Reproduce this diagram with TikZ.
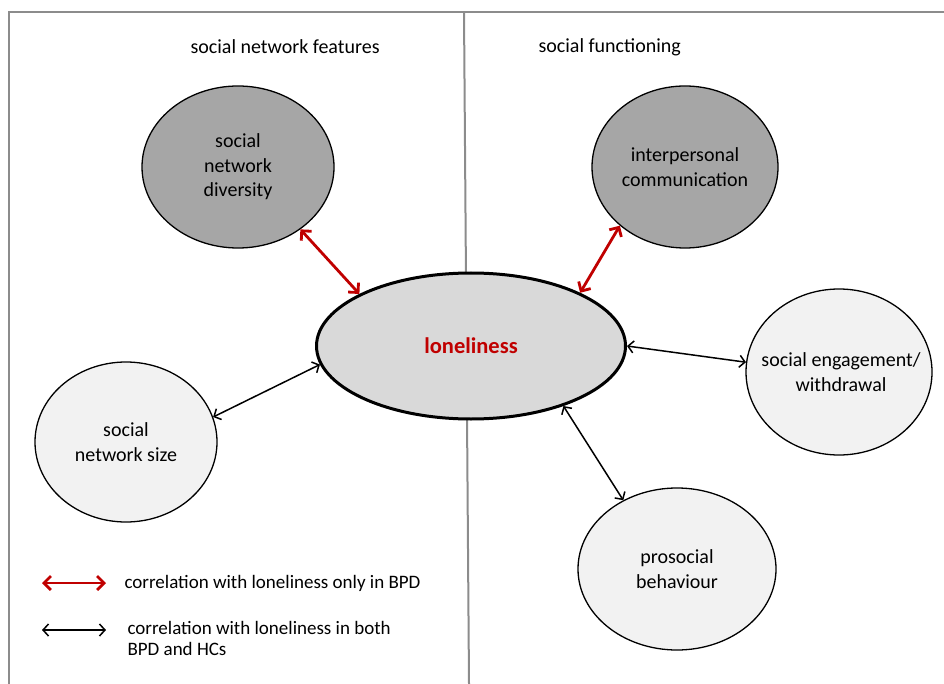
\documentclass[tikz,border=0pt]{standalone}
\usepackage{fontspec}
\setmainfont{Carlito}
\usetikzlibrary{arrows.meta,shapes.geometric}
\definecolor{darkfill}{HTML}{A6A6A6}
\definecolor{midfill}{HTML}{D9D9D9}
\definecolor{lightfill}{HTML}{F2F2F2}
\definecolor{corrred}{HTML}{C00000}
\definecolor{framegray}{HTML}{8C8C8C}
\begin{document}
\begin{tikzpicture}[x=1pt,y=-1pt,
  bubble/.style={ellipse,draw=black,line width=1.3pt,inner sep=0pt,align=center,
    font=\fontsize{20}{24.5}\selectfont},
  darkbubble/.style={bubble,fill=darkfill},
  lightbubble/.style={bubble,fill=lightfill},
  bubbletext/.style={inner sep=0pt,align=center,font=\fontsize{20}{24.5}\selectfont},
  redlink/.style={{Straight Barb[length=7pt,width=14pt]}-{Straight Barb[length=7pt,width=14pt]},
    draw=corrred,line width=2.8pt},
  blacklink/.style={{Straight Barb[length=5.5pt,width=12pt]}-{Straight Barb[length=5.5pt,width=12pt]},
    draw=black,line width=1.5pt},
  heading/.style={font=\fontsize{20}{24}\selectfont,anchor=west},
  legendtext/.style={font=\fontsize{19}{21}\selectfont,anchor=west,align=left}]
\useasboundingbox (0,0) rectangle (944,684);
% frame and divider
\draw[framegray,line width=2pt] (9,684) -- (9,12.5) -- (944,12.5);
\draw[framegray,line width=2pt] (464,12.5) -- (469,684);
% headings
\node[heading] (h1) at (187,47) {social network features};
\node[heading] (h2) at (535,47) {social functioning};
% nodes
\node[ellipse,draw=black,line width=3pt,fill=midfill,minimum width=309pt,minimum height=146pt,
  inner sep=0pt,font=\fontsize{22.5}{26}\selectfont\bfseries,text=corrred] (lon) at (471,346) {loneliness};
\node[darkbubble,minimum width=192pt,minimum height=162pt] (div) at (238,167) {social\\network\\diversity};
\node[darkbubble,minimum width=186pt,minimum height=162pt] (ipc) at (685,167) {interpersonal\\communication};
\node[lightbubble,minimum width=182pt,minimum height=160pt] (size) at (126,442) {social\\network size};
\node[lightbubble,minimum width=186pt,minimum height=166pt] (eng) at (839,372) {};
\node[bubbletext] (engtext) at (841,372) {social engagement/\\withdrawal};
\node[lightbubble,minimum width=198pt,minimum height=162pt] (pro) at (677,569) {prosocial\\behaviour};
% connectors
\draw[redlink] (div.-45) -- (lon.155);
\draw[redlink] (ipc.-138) -- (lon.26);
\draw[blacklink] (size.16) -- (lon.187);
\draw[blacklink] (lon.0) -- (eng.174);
\draw[blacklink] (lon.-33) -- (pro.128);
% legend
\coordinate (r1) at (42,583);
\coordinate (r2) at (106,583);
\coordinate (b1) at (42,630);
\coordinate (b2) at (106,630);
\draw[redlink] (r1) -- (r2);
\draw[blacklink] (b1) -- (b2);
\node[legendtext] (l1) at (121,583) {correlation with loneliness only in BPD};
\node[legendtext] (l2) at (124,638) {correlation with loneliness in both\\BPD and HCs};
\end{tikzpicture}
\end{document}
